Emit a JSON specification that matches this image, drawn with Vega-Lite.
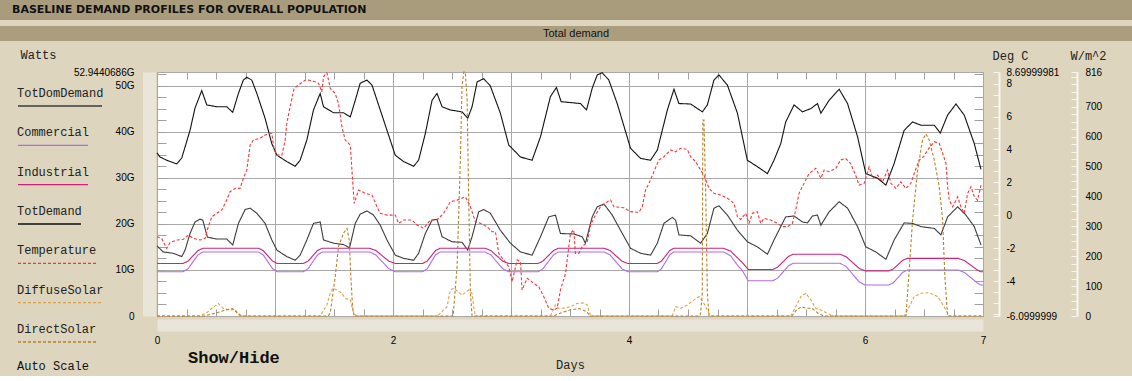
{
  "$schema": "https://vega.github.io/schema/vega-lite/v6.json",
  "background": "#ddd5bd",
  "padding": 0,
  "spacing": 6,
  "config": {
    "view": {"stroke": null},
    "axis": {"labelFont": "Liberation Sans", "labelFontSize": 10, "labelColor": "#000000", "titleFont": "Liberation Mono", "titleFontSize": 12, "titleFontWeight": "normal", "titleColor": "#222222", "labelOverlap": false, "labelBound": false, "labelFlush": false}
  },
  "datasets": {
    "profiles": [
      {"series":"TotDemand","day":0,"value":35.4},{"series":"TotDemand","day":0.025,"value":34.5},{"series":"TotDemand","day":0.082,"value":33.8},{"series":"TotDemand","day":0.167,"value":33.0},{"series":"TotDemand","day":0.21,"value":34.3},{"series":"TotDemand","day":0.28,"value":40.3},{"series":"TotDemand","day":0.322,"value":45.1},{"series":"TotDemand","day":0.379,"value":48.9},{"series":"TotDemand","day":0.422,"value":45.8},{"series":"TotDemand","day":0.507,"value":45.4},{"series":"TotDemand","day":0.591,"value":45.4},{"series":"TotDemand","day":0.642,"value":44.2},{"series":"TotDemand","day":0.69,"value":48.3},{"series":"TotDemand","day":0.732,"value":51.2},{"series":"TotDemand","day":0.761,"value":51.8},{"series":"TotDemand","day":0.803,"value":51.2},{"series":"TotDemand","day":0.846,"value":48.3},{"series":"TotDemand","day":0.916,"value":42.9},{"series":"TotDemand","day":0.973,"value":37.4},{"series":"TotDemand","day":1.016,"value":34.9},{"series":"TotDemand","day":1.1,"value":33.5},{"series":"TotDemand","day":1.171,"value":32.5},{"series":"TotDemand","day":1.213,"value":33.8},{"series":"TotDemand","day":1.27,"value":38.2},{"series":"TotDemand","day":1.326,"value":44.7},{"series":"TotDemand","day":1.383,"value":48.3},{"series":"TotDemand","day":1.411,"value":45.4},{"series":"TotDemand","day":1.496,"value":44.1},{"series":"TotDemand","day":1.581,"value":44.1},{"series":"TotDemand","day":1.638,"value":43.2},{"series":"TotDemand","day":1.68,"value":46.8},{"series":"TotDemand","day":1.722,"value":50.5},{"series":"TotDemand","day":1.779,"value":51.2},{"series":"TotDemand","day":1.822,"value":50.1},{"series":"TotDemand","day":1.892,"value":44.7},{"series":"TotDemand","day":1.949,"value":40.3},{"series":"TotDemand","day":2.019,"value":34.9},{"series":"TotDemand","day":2.09,"value":33.5},{"series":"TotDemand","day":2.175,"value":32.5},{"series":"TotDemand","day":2.217,"value":33.8},{"series":"TotDemand","day":2.274,"value":39.6},{"series":"TotDemand","day":2.331,"value":46.8},{"series":"TotDemand","day":2.373,"value":48.3},{"series":"TotDemand","day":2.416,"value":45.4},{"series":"TotDemand","day":2.486,"value":44.7},{"series":"TotDemand","day":2.585,"value":44.3},{"series":"TotDemand","day":2.633,"value":42.9},{"series":"TotDemand","day":2.67,"value":45.4},{"series":"TotDemand","day":2.713,"value":50.8},{"series":"TotDemand","day":2.769,"value":51.5},{"series":"TotDemand","day":2.825,"value":49.9},{"series":"TotDemand","day":2.91,"value":44.0},{"series":"TotDemand","day":2.981,"value":37.1},{"series":"TotDemand","day":3.08,"value":34.5},{"series":"TotDemand","day":3.179,"value":33.8},{"series":"TotDemand","day":3.25,"value":38.9},{"series":"TotDemand","day":3.334,"value":47.6},{"series":"TotDemand","day":3.385,"value":49.6},{"series":"TotDemand","day":3.425,"value":46.5},{"series":"TotDemand","day":3.589,"value":46.1},{"series":"TotDemand","day":3.64,"value":44.7},{"series":"TotDemand","day":3.688,"value":49.4},{"series":"TotDemand","day":3.731,"value":52.3},{"series":"TotDemand","day":3.773,"value":52.8},{"series":"TotDemand","day":3.829,"value":51.2},{"series":"TotDemand","day":3.9,"value":46.1},{"series":"TotDemand","day":4.013,"value":36.4},{"series":"TotDemand","day":4.098,"value":34.2},{"series":"TotDemand","day":4.183,"value":33.8},{"series":"TotDemand","day":4.24,"value":36.0},{"series":"TotDemand","day":4.325,"value":44.7},{"series":"TotDemand","day":4.381,"value":49.2},{"series":"TotDemand","day":4.423,"value":46.1},{"series":"TotDemand","day":4.522,"value":46.0},{"series":"TotDemand","day":4.622,"value":44.3},{"series":"TotDemand","day":4.664,"value":45.8},{"series":"TotDemand","day":4.72,"value":51.2},{"series":"TotDemand","day":4.762,"value":52.3},{"series":"TotDemand","day":4.834,"value":50.1},{"series":"TotDemand","day":4.919,"value":44.0},{"series":"TotDemand","day":5.003,"value":33.8},{"series":"TotDemand","day":5.088,"value":32.4},{"series":"TotDemand","day":5.173,"value":30.9},{"series":"TotDemand","day":5.229,"value":33.8},{"series":"TotDemand","day":5.286,"value":37.4},{"series":"TotDemand","day":5.328,"value":42.1},{"series":"TotDemand","day":5.399,"value":45.8},{"series":"TotDemand","day":5.47,"value":44.3},{"series":"TotDemand","day":5.541,"value":45.0},{"series":"TotDemand","day":5.597,"value":46.1},{"series":"TotDemand","day":5.626,"value":44.0},{"series":"TotDemand","day":5.696,"value":46.8},{"series":"TotDemand","day":5.781,"value":49.2},{"series":"TotDemand","day":5.852,"value":46.1},{"series":"TotDemand","day":5.937,"value":38.9},{"series":"TotDemand","day":6.007,"value":30.9},{"series":"TotDemand","day":6.106,"value":29.9},{"series":"TotDemand","day":6.177,"value":28.4},{"series":"TotDemand","day":6.247,"value":33.1},{"series":"TotDemand","day":6.332,"value":40.3},{"series":"TotDemand","day":6.403,"value":42.1},{"series":"TotDemand","day":6.474,"value":41.4},{"series":"TotDemand","day":6.587,"value":41.4},{"series":"TotDemand","day":6.638,"value":39.7},{"series":"TotDemand","day":6.7,"value":43.6},{"series":"TotDemand","day":6.771,"value":46.0},{"series":"TotDemand","day":6.841,"value":43.6},{"series":"TotDemand","day":6.926,"value":37.4},{"series":"TotDemand","day":6.983,"value":31.8},

      {"series":"TotDomDemand","day":0,"value":15.2},{"series":"TotDomDemand","day":0.053,"value":13.9},{"series":"TotDomDemand","day":0.138,"value":13.6},{"series":"TotDomDemand","day":0.21,"value":12.9},{"series":"TotDomDemand","day":0.238,"value":14.3},{"series":"TotDomDemand","day":0.28,"value":17.9},{"series":"TotDomDemand","day":0.322,"value":20.4},{"series":"TotDomDemand","day":0.365,"value":21.0},{"series":"TotDomDemand","day":0.388,"value":20.8},{"series":"TotDomDemand","day":0.427,"value":17.1},{"series":"TotDomDemand","day":0.507,"value":16.7},{"series":"TotDomDemand","day":0.591,"value":16.7},{"series":"TotDomDemand","day":0.642,"value":15.4},{"series":"TotDomDemand","day":0.69,"value":20.1},{"series":"TotDomDemand","day":0.747,"value":23.1},{"series":"TotDomDemand","day":0.789,"value":23.4},{"series":"TotDomDemand","day":0.846,"value":22.3},{"series":"TotDomDemand","day":0.916,"value":20.1},{"series":"TotDomDemand","day":0.973,"value":16.5},{"series":"TotDomDemand","day":1.016,"value":14.3},{"series":"TotDomDemand","day":1.1,"value":12.9},{"series":"TotDomDemand","day":1.171,"value":12.1},{"series":"TotDomDemand","day":1.213,"value":13.2},{"series":"TotDomDemand","day":1.27,"value":16.5},{"series":"TotDomDemand","day":1.326,"value":20.1},{"series":"TotDomDemand","day":1.383,"value":20.4},{"series":"TotDomDemand","day":1.411,"value":16.5},{"series":"TotDomDemand","day":1.496,"value":15.8},{"series":"TotDomDemand","day":1.581,"value":15.5},{"series":"TotDomDemand","day":1.632,"value":14.8},{"series":"TotDomDemand","day":1.68,"value":20.1},{"series":"TotDomDemand","day":1.722,"value":22.1},{"series":"TotDomDemand","day":1.779,"value":22.8},{"series":"TotDomDemand","day":1.835,"value":21.9},{"series":"TotDomDemand","day":1.892,"value":19.7},{"series":"TotDomDemand","day":1.949,"value":16.5},{"series":"TotDomDemand","day":2.019,"value":13.2},{"series":"TotDomDemand","day":2.09,"value":12.5},{"series":"TotDomDemand","day":2.175,"value":12.1},{"series":"TotDomDemand","day":2.217,"value":13.6},{"series":"TotDomDemand","day":2.274,"value":17.9},{"series":"TotDomDemand","day":2.331,"value":20.8},{"series":"TotDomDemand","day":2.373,"value":21.0},{"series":"TotDomDemand","day":2.416,"value":17.2},{"series":"TotDomDemand","day":2.5,"value":16.1},{"series":"TotDomDemand","day":2.585,"value":16.0},{"series":"TotDomDemand","day":2.633,"value":14.3},{"series":"TotDomDemand","day":2.67,"value":17.2},{"series":"TotDomDemand","day":2.726,"value":22.6},{"series":"TotDomDemand","day":2.769,"value":23.1},{"series":"TotDomDemand","day":2.825,"value":22.3},{"series":"TotDomDemand","day":2.91,"value":18.6},{"series":"TotDomDemand","day":2.995,"value":15.8},{"series":"TotDomDemand","day":3.08,"value":13.9},{"series":"TotDomDemand","day":3.179,"value":13.2},{"series":"TotDomDemand","day":3.25,"value":17.2},{"series":"TotDomDemand","day":3.32,"value":21.5},{"series":"TotDomDemand","day":3.377,"value":21.9},{"series":"TotDomDemand","day":3.419,"value":17.9},{"series":"TotDomDemand","day":3.532,"value":17.8},{"series":"TotDomDemand","day":3.603,"value":17.2},{"series":"TotDomDemand","day":3.631,"value":15.8},{"series":"TotDomDemand","day":3.688,"value":21.5},{"series":"TotDomDemand","day":3.731,"value":23.7},{"series":"TotDomDemand","day":3.787,"value":24.3},{"series":"TotDomDemand","day":3.858,"value":21.9},{"series":"TotDomDemand","day":3.928,"value":18.6},{"series":"TotDomDemand","day":4.013,"value":14.7},{"series":"TotDomDemand","day":4.098,"value":13.6},{"series":"TotDomDemand","day":4.183,"value":13.2},{"series":"TotDomDemand","day":4.24,"value":15.8},{"series":"TotDomDemand","day":4.296,"value":20.1},{"series":"TotDomDemand","day":4.367,"value":21.4},{"series":"TotDomDemand","day":4.395,"value":20.8},{"series":"TotDomDemand","day":4.423,"value":17.6},{"series":"TotDomDemand","day":4.522,"value":17.4},{"series":"TotDomDemand","day":4.607,"value":15.8},{"series":"TotDomDemand","day":4.664,"value":17.9},{"series":"TotDomDemand","day":4.72,"value":23.4},{"series":"TotDomDemand","day":4.762,"value":23.9},{"series":"TotDomDemand","day":4.834,"value":21.9},{"series":"TotDomDemand","day":4.919,"value":18.6},{"series":"TotDomDemand","day":5.003,"value":16.1},{"series":"TotDomDemand","day":5.088,"value":15.0},{"series":"TotDomDemand","day":5.173,"value":13.4},{"series":"TotDomDemand","day":5.229,"value":16.5},{"series":"TotDomDemand","day":5.286,"value":19.4},{"series":"TotDomDemand","day":5.328,"value":21.5},{"series":"TotDomDemand","day":5.399,"value":21.7},{"series":"TotDomDemand","day":5.47,"value":20.4},{"series":"TotDomDemand","day":5.512,"value":20.2},{"series":"TotDomDemand","day":5.555,"value":21.7},{"series":"TotDomDemand","day":5.597,"value":21.9},{"series":"TotDomDemand","day":5.626,"value":19.7},{"series":"TotDomDemand","day":5.696,"value":22.6},{"series":"TotDomDemand","day":5.781,"value":24.8},{"series":"TotDomDemand","day":5.852,"value":23.4},{"series":"TotDomDemand","day":5.937,"value":19.4},{"series":"TotDomDemand","day":6.007,"value":15.0},{"series":"TotDomDemand","day":6.092,"value":13.9},{"series":"TotDomDemand","day":6.177,"value":12.3},{"series":"TotDomDemand","day":6.247,"value":16.5},{"series":"TotDomDemand","day":6.332,"value":20.2},{"series":"TotDomDemand","day":6.403,"value":20.1},{"series":"TotDomDemand","day":6.474,"value":19.4},{"series":"TotDomDemand","day":6.587,"value":19.0},{"series":"TotDomDemand","day":6.643,"value":17.6},{"series":"TotDomDemand","day":6.7,"value":21.5},{"series":"TotDomDemand","day":6.785,"value":23.7},{"series":"TotDomDemand","day":6.855,"value":21.9},{"series":"TotDomDemand","day":6.926,"value":19.4},{"series":"TotDomDemand","day":6.983,"value":15.4},

      {"series":"Industrial","day":0,"value":11.4},{"series":"Industrial","day":0.22,"value":11.4},{"series":"Industrial","day":0.2625,"value":11.9},{"series":"Industrial","day":0.305,"value":13.05},{"series":"Industrial","day":0.3475,"value":14.2},{"series":"Industrial","day":0.39,"value":14.7},{"series":"Industrial","day":0.86,"value":14.7},{"series":"Industrial","day":0.9,"value":14.2},{"series":"Industrial","day":0.94,"value":13.05},{"series":"Industrial","day":0.98,"value":11.9},{"series":"Industrial","day":1.02,"value":11.4},{"series":"Industrial","day":1.24,"value":11.4},{"series":"Industrial","day":1.28,"value":11.9},{"series":"Industrial","day":1.32,"value":13.05},{"series":"Industrial","day":1.36,"value":14.2},{"series":"Industrial","day":1.4,"value":14.7},{"series":"Industrial","day":1.8,"value":14.7},{"series":"Industrial","day":1.855,"value":14.2},{"series":"Industrial","day":1.91,"value":13.05},{"series":"Industrial","day":1.965,"value":11.9},{"series":"Industrial","day":2.02,"value":11.4},{"series":"Industrial","day":2.25,"value":11.4},{"series":"Industrial","day":2.29,"value":11.9},{"series":"Industrial","day":2.325,"value":13.05},{"series":"Industrial","day":2.36,"value":14.2},{"series":"Industrial","day":2.4,"value":14.7},{"series":"Industrial","day":2.78,"value":14.7},{"series":"Industrial","day":2.83,"value":14.2},{"series":"Industrial","day":2.88,"value":13.05},{"series":"Industrial","day":2.93,"value":11.9},{"series":"Industrial","day":2.98,"value":11.4},{"series":"Industrial","day":3.23,"value":11.4},{"series":"Industrial","day":3.27,"value":11.9},{"series":"Industrial","day":3.315,"value":13.05},{"series":"Industrial","day":3.36,"value":14.2},{"series":"Industrial","day":3.4,"value":14.7},{"series":"Industrial","day":3.79,"value":14.7},{"series":"Industrial","day":3.84,"value":14.2},{"series":"Industrial","day":3.89,"value":13.05},{"series":"Industrial","day":3.94,"value":11.9},{"series":"Industrial","day":3.99,"value":11.4},{"series":"Industrial","day":4.24,"value":11.4},{"series":"Industrial","day":4.275,"value":11.9},{"series":"Industrial","day":4.31,"value":13.05},{"series":"Industrial","day":4.345,"value":14.2},{"series":"Industrial","day":4.38,"value":14.7},{"series":"Industrial","day":4.8,"value":14.7},{"series":"Industrial","day":4.86,"value":14.1},{"series":"Industrial","day":4.92,"value":12.6},{"series":"Industrial","day":4.96,"value":11.6},{"series":"Industrial","day":5.01,"value":10.1},{"series":"Industrial","day":5.22,"value":10.1},{"series":"Industrial","day":5.26,"value":10.6},{"series":"Industrial","day":5.305,"value":11.75},{"series":"Industrial","day":5.35,"value":12.9},{"series":"Industrial","day":5.39,"value":13.4},{"series":"Industrial","day":5.79,"value":13.4},{"series":"Industrial","day":5.84,"value":12.86},{"series":"Industrial","day":5.895,"value":11.6},{"series":"Industrial","day":5.95,"value":10.34},{"series":"Industrial","day":6.0,"value":9.8},{"series":"Industrial","day":6.2,"value":9.8},{"series":"Industrial","day":6.24,"value":10.2},{"series":"Industrial","day":6.28,"value":11.15},{"series":"Industrial","day":6.32,"value":12.1},{"series":"Industrial","day":6.36,"value":12.5},{"series":"Industrial","day":6.79,"value":12.5},{"series":"Industrial","day":6.84,"value":12.06},{"series":"Industrial","day":6.895,"value":11.05},{"series":"Industrial","day":6.95,"value":10.03},{"series":"Industrial","day":6.98,"value":9.6},{"series":"Industrial","day":7,"value":9.6},

      {"series":"Commercial","day":0,"value":9.6},{"series":"Commercial","day":0.22,"value":9.6},{"series":"Commercial","day":0.2625,"value":10.25},{"series":"Commercial","day":0.305,"value":11.75},{"series":"Commercial","day":0.3475,"value":13.25},{"series":"Commercial","day":0.39,"value":13.9},{"series":"Commercial","day":0.86,"value":13.9},{"series":"Commercial","day":0.9,"value":13.25},{"series":"Commercial","day":0.94,"value":11.75},{"series":"Commercial","day":0.98,"value":10.25},{"series":"Commercial","day":1.02,"value":9.6},{"series":"Commercial","day":1.24,"value":9.6},{"series":"Commercial","day":1.28,"value":10.25},{"series":"Commercial","day":1.32,"value":11.75},{"series":"Commercial","day":1.36,"value":13.25},{"series":"Commercial","day":1.4,"value":13.9},{"series":"Commercial","day":1.8,"value":13.9},{"series":"Commercial","day":1.855,"value":13.25},{"series":"Commercial","day":1.91,"value":11.75},{"series":"Commercial","day":1.965,"value":10.25},{"series":"Commercial","day":2.02,"value":9.6},{"series":"Commercial","day":2.25,"value":9.6},{"series":"Commercial","day":2.29,"value":10.25},{"series":"Commercial","day":2.325,"value":11.75},{"series":"Commercial","day":2.36,"value":13.25},{"series":"Commercial","day":2.4,"value":13.9},{"series":"Commercial","day":2.78,"value":13.9},{"series":"Commercial","day":2.83,"value":13.25},{"series":"Commercial","day":2.88,"value":11.75},{"series":"Commercial","day":2.93,"value":10.25},{"series":"Commercial","day":2.98,"value":9.6},{"series":"Commercial","day":3.23,"value":9.6},{"series":"Commercial","day":3.27,"value":10.25},{"series":"Commercial","day":3.315,"value":11.75},{"series":"Commercial","day":3.36,"value":13.25},{"series":"Commercial","day":3.4,"value":13.9},{"series":"Commercial","day":3.79,"value":13.9},{"series":"Commercial","day":3.84,"value":13.25},{"series":"Commercial","day":3.89,"value":11.75},{"series":"Commercial","day":3.94,"value":10.25},{"series":"Commercial","day":3.99,"value":9.6},{"series":"Commercial","day":4.24,"value":9.6},{"series":"Commercial","day":4.275,"value":10.25},{"series":"Commercial","day":4.31,"value":11.75},{"series":"Commercial","day":4.345,"value":13.25},{"series":"Commercial","day":4.38,"value":13.9},{"series":"Commercial","day":4.8,"value":13.9},{"series":"Commercial","day":4.86,"value":13.1},{"series":"Commercial","day":4.92,"value":11.0},{"series":"Commercial","day":4.96,"value":9.9},{"series":"Commercial","day":5.01,"value":7.65},{"series":"Commercial","day":5.22,"value":7.65},{"series":"Commercial","day":5.26,"value":8.22},{"series":"Commercial","day":5.305,"value":9.54},{"series":"Commercial","day":5.35,"value":10.86},{"series":"Commercial","day":5.39,"value":11.43},{"series":"Commercial","day":5.79,"value":11.43},{"series":"Commercial","day":5.84,"value":10.72},{"series":"Commercial","day":5.895,"value":9.08},{"series":"Commercial","day":5.95,"value":7.43},{"series":"Commercial","day":6.0,"value":6.72},{"series":"Commercial","day":6.2,"value":6.72},{"series":"Commercial","day":6.24,"value":7.21},{"series":"Commercial","day":6.28,"value":8.35},{"series":"Commercial","day":6.32,"value":9.48},{"series":"Commercial","day":6.36,"value":9.97},{"series":"Commercial","day":6.79,"value":9.97},{"series":"Commercial","day":6.84,"value":9.48},{"series":"Commercial","day":6.895,"value":8.35},{"series":"Commercial","day":6.95,"value":7.21},{"series":"Commercial","day":6.98,"value":6.72},{"series":"Commercial","day":7,"value":6.72},

      {"series":"Temperature","day":0,"value":-1.29},{"series":"Temperature","day":0.04,"value":-1.4},{"series":"Temperature","day":0.082,"value":-2.0},{"series":"Temperature","day":0.11,"value":-1.65},{"series":"Temperature","day":0.167,"value":-1.49},{"series":"Temperature","day":0.223,"value":-1.45},{"series":"Temperature","day":0.266,"value":-1.19},{"series":"Temperature","day":0.308,"value":-1.39},{"series":"Temperature","day":0.365,"value":-1.49},{"series":"Temperature","day":0.407,"value":-1.39},{"series":"Temperature","day":0.435,"value":-0.68},{"series":"Temperature","day":0.464,"value":-0.08},{"series":"Temperature","day":0.507,"value":0.13},{"series":"Temperature","day":0.549,"value":0.33},{"series":"Temperature","day":0.591,"value":0.93},{"series":"Temperature","day":0.619,"value":1.44},{"series":"Temperature","day":0.662,"value":1.64},{"series":"Temperature","day":0.704,"value":1.64},{"series":"Temperature","day":0.732,"value":2.25},{"series":"Temperature","day":0.761,"value":2.75},{"series":"Temperature","day":0.789,"value":4.27},{"series":"Temperature","day":0.817,"value":4.57},{"series":"Temperature","day":0.874,"value":4.68},{"series":"Temperature","day":0.916,"value":4.88},{"series":"Temperature","day":0.973,"value":4.98},{"series":"Temperature","day":0.993,"value":3.97},{"series":"Temperature","day":1.016,"value":3.66},{"series":"Temperature","day":1.058,"value":3.66},{"series":"Temperature","day":1.086,"value":4.57},{"series":"Temperature","day":1.1,"value":5.59},{"series":"Temperature","day":1.128,"value":6.59},{"series":"Temperature","day":1.162,"value":7.71},{"series":"Temperature","day":1.199,"value":7.91},{"series":"Temperature","day":1.256,"value":8.21},{"series":"Temperature","day":1.284,"value":8.21},{"series":"Temperature","day":1.341,"value":8.11},{"series":"Temperature","day":1.369,"value":8.01},{"series":"Temperature","day":1.397,"value":7.5},{"series":"Temperature","day":1.411,"value":8.41},{"series":"Temperature","day":1.44,"value":8.65},{"series":"Temperature","day":1.468,"value":7.71},{"series":"Temperature","day":1.51,"value":7.4},{"series":"Temperature","day":1.538,"value":6.8},{"series":"Temperature","day":1.567,"value":5.38},{"series":"Temperature","day":1.595,"value":4.57},{"series":"Temperature","day":1.638,"value":4.27},{"series":"Temperature","day":1.652,"value":2.75},{"series":"Temperature","day":1.671,"value":0.73},{"series":"Temperature","day":1.708,"value":1.54},{"series":"Temperature","day":1.737,"value":1.44},{"series":"Temperature","day":1.765,"value":1.34},{"series":"Temperature","day":1.822,"value":1.24},{"series":"Temperature","day":1.864,"value":0.53},{"series":"Temperature","day":1.892,"value":0.13},{"series":"Temperature","day":1.949,"value":0.02},{"series":"Temperature","day":2.019,"value":0.02},{"series":"Temperature","day":2.047,"value":-0.48},{"series":"Temperature","day":2.09,"value":-0.28},{"series":"Temperature","day":2.161,"value":-0.28},{"series":"Temperature","day":2.203,"value":-0.58},{"series":"Temperature","day":2.26,"value":-0.78},{"series":"Temperature","day":2.316,"value":-0.28},{"series":"Temperature","day":2.373,"value":-0.28},{"series":"Temperature","day":2.429,"value":0.13},{"series":"Temperature","day":2.486,"value":0.83},{"series":"Temperature","day":2.543,"value":0.93},{"series":"Temperature","day":2.613,"value":1.13},{"series":"Temperature","day":2.656,"value":0.53},{"series":"Temperature","day":2.698,"value":-0.38},{"series":"Temperature","day":2.741,"value":-0.48},{"series":"Temperature","day":2.797,"value":-0.68},{"series":"Temperature","day":2.84,"value":-0.99},{"series":"Temperature","day":2.868,"value":-0.99},{"series":"Temperature","day":2.896,"value":-2.3},{"series":"Temperature","day":2.938,"value":-2.7},{"series":"Temperature","day":2.981,"value":-3.11},{"series":"Temperature","day":3.01,"value":-4.02},{"series":"Temperature","day":3.052,"value":-2.7},{"series":"Temperature","day":3.08,"value":-2.81},{"series":"Temperature","day":3.094,"value":-4.52},{"series":"Temperature","day":3.137,"value":-3.81},{"series":"Temperature","day":3.193,"value":-4.12},{"series":"Temperature","day":3.235,"value":-4.32},{"series":"Temperature","day":3.278,"value":-4.93},{"series":"Temperature","day":3.32,"value":-5.63},{"series":"Temperature","day":3.362,"value":-5.74},{"series":"Temperature","day":3.391,"value":-5.63},{"series":"Temperature","day":3.419,"value":-4.52},{"series":"Temperature","day":3.462,"value":-3.51},{"series":"Temperature","day":3.49,"value":-1.9},{"series":"Temperature","day":3.504,"value":-1.08},{"series":"Temperature","day":3.532,"value":-0.88},{"series":"Temperature","day":3.546,"value":-2.3},{"series":"Temperature","day":3.575,"value":-2.3},{"series":"Temperature","day":3.603,"value":-1.9},{"series":"Temperature","day":3.646,"value":-1.6},{"series":"Temperature","day":3.674,"value":-0.58},{"series":"Temperature","day":3.716,"value":0.02},{"series":"Temperature","day":3.759,"value":0.53},{"series":"Temperature","day":3.816,"value":0.83},{"series":"Temperature","day":3.844,"value":0.93},{"series":"Temperature","day":3.872,"value":0.53},{"series":"Temperature","day":3.956,"value":0.47},{"series":"Temperature","day":4.013,"value":0.23},{"series":"Temperature","day":4.084,"value":0.19},{"series":"Temperature","day":4.112,"value":0.53},{"series":"Temperature","day":4.14,"value":1.54},{"series":"Temperature","day":4.169,"value":1.95},{"series":"Temperature","day":4.211,"value":2.65},{"series":"Temperature","day":4.253,"value":3.36},{"series":"Temperature","day":4.296,"value":3.56},{"series":"Temperature","day":4.353,"value":3.97},{"series":"Temperature","day":4.395,"value":3.86},{"series":"Temperature","day":4.437,"value":4.07},{"series":"Temperature","day":4.494,"value":4.01},{"series":"Temperature","day":4.522,"value":3.56},{"series":"Temperature","day":4.565,"value":3.26},{"series":"Temperature","day":4.607,"value":2.75},{"series":"Temperature","day":4.635,"value":2.45},{"series":"Temperature","day":4.678,"value":1.64},{"series":"Temperature","day":4.72,"value":1.34},{"series":"Temperature","day":4.777,"value":1.24},{"series":"Temperature","day":4.834,"value":1.04},{"series":"Temperature","day":4.89,"value":0.73},{"series":"Temperature","day":4.919,"value":-0.08},{"series":"Temperature","day":4.947,"value":-0.24},{"series":"Temperature","day":4.989,"value":0.13},{"series":"Temperature","day":5.017,"value":-0.48},{"series":"Temperature","day":5.046,"value":0.13},{"series":"Temperature","day":5.088,"value":0.23},{"series":"Temperature","day":5.116,"value":-0.48},{"series":"Temperature","day":5.144,"value":-0.18},{"series":"Temperature","day":5.201,"value":-0.28},{"series":"Temperature","day":5.258,"value":-0.48},{"series":"Temperature","day":5.3,"value":-0.68},{"series":"Temperature","day":5.343,"value":-0.68},{"series":"Temperature","day":5.385,"value":-0.48},{"series":"Temperature","day":5.413,"value":0.33},{"series":"Temperature","day":5.441,"value":1.34},{"series":"Temperature","day":5.484,"value":1.95},{"series":"Temperature","day":5.526,"value":2.55},{"series":"Temperature","day":5.583,"value":2.86},{"series":"Temperature","day":5.626,"value":2.25},{"series":"Temperature","day":5.653,"value":2.75},{"series":"Temperature","day":5.696,"value":2.65},{"series":"Temperature","day":5.753,"value":2.86},{"series":"Temperature","day":5.792,"value":3.36},{"series":"Temperature","day":5.835,"value":3.46},{"series":"Temperature","day":5.877,"value":3.16},{"series":"Temperature","day":5.92,"value":2.45},{"series":"Temperature","day":5.95,"value":1.84},{"series":"Temperature","day":5.993,"value":1.95},{"series":"Temperature","day":6.035,"value":2.95},{"series":"Temperature","day":6.064,"value":2.25},{"series":"Temperature","day":6.106,"value":2.45},{"series":"Temperature","day":6.149,"value":2.04},{"series":"Temperature","day":6.191,"value":2.75},{"series":"Temperature","day":6.219,"value":1.95},{"series":"Temperature","day":6.262,"value":1.64},{"series":"Temperature","day":6.304,"value":2.04},{"series":"Temperature","day":6.346,"value":1.64},{"series":"Temperature","day":6.389,"value":1.95},{"series":"Temperature","day":6.417,"value":2.55},{"series":"Temperature","day":6.459,"value":3.36},{"series":"Temperature","day":6.497,"value":3.56},{"series":"Temperature","day":6.531,"value":3.97},{"series":"Temperature","day":6.587,"value":4.47},{"series":"Temperature","day":6.629,"value":4.37},{"series":"Temperature","day":6.658,"value":3.77},{"series":"Temperature","day":6.686,"value":3.16},{"series":"Temperature","day":6.7,"value":1.74},{"series":"Temperature","day":6.714,"value":0.93},{"series":"Temperature","day":6.743,"value":0.53},{"series":"Temperature","day":6.785,"value":1.13},{"series":"Temperature","day":6.813,"value":0.53},{"series":"Temperature","day":6.841,"value":0.13},{"series":"Temperature","day":6.87,"value":1.34},{"series":"Temperature","day":6.898,"value":1.74},{"series":"Temperature","day":6.926,"value":1.13},{"series":"Temperature","day":6.954,"value":0.93},{"series":"Temperature","day":6.983,"value":1.84},

      {"series":"DiffuseSolar","day":0,"value":0},{"series":"DiffuseSolar","day":0.36,"value":0},{"series":"DiffuseSolar","day":0.42,"value":10},{"series":"DiffuseSolar","day":0.464,"value":26},{"series":"DiffuseSolar","day":0.52,"value":42},{"series":"DiffuseSolar","day":0.56,"value":26},{"series":"DiffuseSolar","day":0.619,"value":20},{"series":"DiffuseSolar","day":0.662,"value":22},{"series":"DiffuseSolar","day":0.704,"value":0},{"series":"DiffuseSolar","day":1.383,"value":0},{"series":"DiffuseSolar","day":1.44,"value":37},{"series":"DiffuseSolar","day":1.468,"value":76},{"series":"DiffuseSolar","day":1.491,"value":93},{"series":"DiffuseSolar","day":1.525,"value":87},{"series":"DiffuseSolar","day":1.567,"value":76},{"series":"DiffuseSolar","day":1.595,"value":59},{"series":"DiffuseSolar","day":1.638,"value":54},{"series":"DiffuseSolar","day":1.666,"value":9},{"series":"DiffuseSolar","day":1.694,"value":0},{"series":"DiffuseSolar","day":2.376,"value":0},{"series":"DiffuseSolar","day":2.4,"value":9},{"series":"DiffuseSolar","day":2.458,"value":31},{"series":"DiffuseSolar","day":2.486,"value":87},{"series":"DiffuseSolar","day":2.514,"value":93},{"series":"DiffuseSolar","day":2.585,"value":70},{"series":"DiffuseSolar","day":2.641,"value":87},{"series":"DiffuseSolar","day":2.67,"value":76},{"series":"DiffuseSolar","day":2.684,"value":31},{"series":"DiffuseSolar","day":2.698,"value":0},{"series":"DiffuseSolar","day":3.334,"value":0},{"series":"DiffuseSolar","day":3.377,"value":37},{"series":"DiffuseSolar","day":3.4,"value":26},{"series":"DiffuseSolar","day":3.44,"value":26},{"series":"DiffuseSolar","day":3.504,"value":31},{"series":"DiffuseSolar","day":3.56,"value":42},{"series":"DiffuseSolar","day":3.617,"value":44},{"series":"DiffuseSolar","day":3.645,"value":37},{"series":"DiffuseSolar","day":3.674,"value":0},{"series":"DiffuseSolar","day":4.367,"value":0},{"series":"DiffuseSolar","day":4.395,"value":31},{"series":"DiffuseSolar","day":4.437,"value":26},{"series":"DiffuseSolar","day":4.494,"value":37},{"series":"DiffuseSolar","day":4.551,"value":54},{"series":"DiffuseSolar","day":4.594,"value":65},{"series":"DiffuseSolar","day":4.635,"value":42},{"series":"DiffuseSolar","day":4.678,"value":9},{"series":"DiffuseSolar","day":4.69,"value":0},{"series":"DiffuseSolar","day":5.371,"value":0},{"series":"DiffuseSolar","day":5.413,"value":31},{"series":"DiffuseSolar","day":5.456,"value":65},{"series":"DiffuseSolar","day":5.498,"value":76},{"series":"DiffuseSolar","day":5.541,"value":54},{"series":"DiffuseSolar","day":5.583,"value":26},{"series":"DiffuseSolar","day":5.626,"value":20},{"series":"DiffuseSolar","day":5.682,"value":9},{"series":"DiffuseSolar","day":5.725,"value":0},{"series":"DiffuseSolar","day":6.332,"value":0},{"series":"DiffuseSolar","day":6.375,"value":31},{"series":"DiffuseSolar","day":6.417,"value":65},{"series":"DiffuseSolar","day":6.474,"value":76},{"series":"DiffuseSolar","day":6.545,"value":78},{"series":"DiffuseSolar","day":6.615,"value":65},{"series":"DiffuseSolar","day":6.672,"value":31},{"series":"DiffuseSolar","day":6.714,"value":0},{"series":"DiffuseSolar","day":7,"value":0},

      {"series":"DirectSolar","day":0,"value":0},{"series":"DirectSolar","day":0.4,"value":0},{"series":"DirectSolar","day":0.5,"value":10},{"series":"DirectSolar","day":0.58,"value":20},{"series":"DirectSolar","day":0.64,"value":25},{"series":"DirectSolar","day":0.68,"value":10},{"series":"DirectSolar","day":0.72,"value":0},{"series":"DirectSolar","day":1.45,"value":0},{"series":"DirectSolar","day":1.468,"value":9},{"series":"DirectSolar","day":1.51,"value":131},{"series":"DirectSolar","day":1.538,"value":232},{"series":"DirectSolar","day":1.581,"value":277},{"series":"DirectSolar","day":1.61,"value":293},{"series":"DirectSolar","day":1.629,"value":254},{"series":"DirectSolar","day":1.643,"value":131},{"series":"DirectSolar","day":1.657,"value":31},{"series":"DirectSolar","day":1.671,"value":0},{"series":"DirectSolar","day":2.51,"value":0},{"series":"DirectSolar","day":2.543,"value":165},{"series":"DirectSolar","day":2.571,"value":522},{"series":"DirectSolar","day":2.585,"value":767},{"series":"DirectSolar","day":2.6,"value":816},{"series":"DirectSolar","day":2.613,"value":816},{"series":"DirectSolar","day":2.628,"value":722},{"series":"DirectSolar","day":2.641,"value":410},{"series":"DirectSolar","day":2.656,"value":76},{"series":"DirectSolar","day":2.67,"value":0},{"series":"DirectSolar","day":3.36,"value":0},{"series":"DirectSolar","day":3.42,"value":10},{"series":"DirectSolar","day":3.5,"value":20},{"series":"DirectSolar","day":3.58,"value":25},{"series":"DirectSolar","day":3.64,"value":15},{"series":"DirectSolar","day":3.67,"value":0},{"series":"DirectSolar","day":4.6,"value":0},{"series":"DirectSolar","day":4.607,"value":9},{"series":"DirectSolar","day":4.621,"value":76},{"series":"DirectSolar","day":4.626,"value":655},{"series":"DirectSolar","day":4.635,"value":655},{"series":"DirectSolar","day":4.65,"value":410},{"series":"DirectSolar","day":4.664,"value":76},{"series":"DirectSolar","day":4.678,"value":0},{"series":"DirectSolar","day":5.38,"value":0},{"series":"DirectSolar","day":5.42,"value":20},{"series":"DirectSolar","day":5.46,"value":31},{"series":"DirectSolar","day":5.5,"value":26},{"series":"DirectSolar","day":5.55,"value":26},{"series":"DirectSolar","day":5.6,"value":10},{"series":"DirectSolar","day":5.65,"value":0},{"series":"DirectSolar","day":6.347,"value":0},{"series":"DirectSolar","day":6.375,"value":154},{"series":"DirectSolar","day":6.403,"value":321},{"series":"DirectSolar","day":6.446,"value":488},{"series":"DirectSolar","day":6.488,"value":589},{"series":"DirectSolar","day":6.516,"value":609},{"series":"DirectSolar","day":6.544,"value":589},{"series":"DirectSolar","day":6.587,"value":522},{"series":"DirectSolar","day":6.629,"value":432},{"series":"DirectSolar","day":6.658,"value":321},{"series":"DirectSolar","day":6.677,"value":131},{"series":"DirectSolar","day":6.7,"value":0},{"series":"DirectSolar","day":7,"value":0}
    ]
  },
  "vconcat": [
    {
      "width": 1132, "height": 20,
      "view": {"fill": "#a99c7c", "stroke": null},
      "data": {"values": [{"label": "BASELINE DEMAND PROFILES FOR OVERALL POPULATION"}]},
      "mark": {"type": "text", "align": "left", "baseline": "middle", "font": "DejaVu Sans", "fontSize": 11, "fontWeight": "bold", "color": "#111111"},
      "encoding": {"x": {"value": 12}, "text": {"field": "label"}}
    },
    {
      "width": 1132, "height": 15,
      "view": {"fill": "#ab9e7e", "stroke": null},
      "data": {"values": [{"label": "Total demand"}]},
      "mark": {"type": "text", "align": "center", "baseline": "middle", "font": "Liberation Sans", "fontSize": 11, "color": "#111111"},
      "encoding": {"x": {"value": 576}, "text": {"field": "label"}}
    },
    {
      "bounds": "flush",
      "spacing": 17,
      "hconcat": [
        {
          "width": 140, "height": 304,
          "view": {"stroke": null, "fill": null},
          "title": {"text": "Auto Scale", "orient": "bottom", "anchor": "start", "dx": 17, "offset": -15, "font": "Liberation Mono", "fontSize": 12, "fontWeight": "normal", "color": "#111111"},
          "data": {"values": [{"series": "TotDomDemand"}, {"series": "Commercial"}, {"series": "Industrial"}, {"series": "TotDemand"}, {"series": "Temperature"}, {"series": "DiffuseSolar"}, {"series": "DirectSolar"}]},
          "encoding": {
            "y": {"field": "series", "type": "nominal", "scale": {"type": "point", "domain": ["TotDomDemand", "Commercial", "Industrial", "TotDemand", "Temperature", "DiffuseSolar", "DirectSolar"], "padding": 0.864}, "axis": null},
            "color": {"field": "series", "type": "nominal", "scale": {"domain": ["TotDomDemand", "Commercial", "Industrial", "TotDemand", "Temperature", "DiffuseSolar", "DirectSolar"], "range": ["#3c3c3c", "#b06ce8", "#cc2277", "#111111", "#ff3333", "#d9a548", "#b8802a"]}, "legend": null},
            "strokeDash": {"field": "series", "type": "nominal", "scale": {"domain": ["TotDomDemand", "Commercial", "Industrial", "TotDemand", "Temperature", "DiffuseSolar", "DirectSolar"], "range": [[1, 0], [1, 0], [1, 0], [1, 0], [3, 2], [3, 2], [3, 2]]}, "legend": null}
          },
          "layer": [
            {
              "transform": [{"filter": {"field": "series", "oneOf": ["TotDomDemand", "DiffuseSolar"]}}],
              "mark": {"type": "rule", "strokeWidth": 1.3},
              "encoding": {"x": {"value": 18}, "x2": {"value": 102}}
            },
            {
              "transform": [{"filter": {"field": "series", "oneOf": ["Commercial", "Industrial"]}}],
              "mark": {"type": "rule", "strokeWidth": 1.3},
              "encoding": {"x": {"value": 18}, "x2": {"value": 88}}
            },
            {
              "transform": [{"filter": {"field": "series", "equal": "TotDemand"}}],
              "mark": {"type": "rule", "strokeWidth": 1.3},
              "encoding": {"x": {"value": 18}, "x2": {"value": 81}}
            },
            {
              "transform": [{"filter": {"field": "series", "oneOf": ["Temperature", "DirectSolar"]}}],
              "mark": {"type": "rule", "strokeWidth": 1.3},
              "encoding": {"x": {"value": 18}, "x2": {"value": 96}}
            },
            {
              "mark": {"type": "text", "align": "left", "baseline": "middle", "dy": -13, "font": "Liberation Mono", "fontSize": 12, "color": "#222222"},
              "encoding": {"x": {"value": 17}, "text": {"field": "series"}, "color": {"value": "#222222"}, "strokeDash": {"value": [1, 0]}}
            }
          ]
        },
        {
          "width": 826, "height": 244,
          "view": {"fill": "#ffffff", "stroke": "#9a9a9a"},
          "data": {"name": "profiles"},
          "title": {"text": "Show/Hide", "orient": "bottom", "anchor": "start", "frame": "group", "dx": 31, "offset": -20, "font": "Liberation Mono", "fontSize": 17, "fontWeight": "bold", "color": "#111111"},
          "layer": [
            {
              "transform": [{"filter": {"field": "series", "oneOf": ["TotDemand", "TotDomDemand", "Commercial", "Industrial"]}}],
              "mark": {"type": "line", "strokeWidth": 1.1},
              "encoding": {
                "x": {"field": "day", "type": "quantitative", "scale": {"domain": [0, 7], "nice": false, "zero": false},
                  "axis": {"orient": "bottom", "offset": 9, "values": [0, 1, 2, 3, 4, 5, 6, 7], "labelExpr": "datum.value % 2 == 0 || datum.value == 7 ? datum.label : ''", "ticks": false, "domainWidth": 12, "domainColor": "#e9e5d8", "labelPadding": 10, "grid": true, "gridColor": "#a9a9a9", "title": "Days", "titlePadding": 14}},
                "y": {"field": "value", "type": "quantitative", "scale": {"domain": [0, 52.9440686], "nice": false, "zero": false},
                  "axis": {"orient": "left", "offset": 8, "values": [0, 10, 20, 30, 40, 50, 52.9440686], "labelExpr": "datum.value == 0 ? '0' : datum.value > 51 ? '52.9440686G' : datum.value + 'G'", "ticks": false, "labelPadding": 15, "domainWidth": 13, "domainColor": "#e9e5d8", "grid": true, "gridColor": "#a9a9a9", "title": "Watts", "titleAngle": 0, "titleAlign": "left", "titleBaseline": "middle", "titleX": -129, "titleY": -18}},
                "color": {"field": "series", "type": "nominal", "scale": {"domain": ["TotDomDemand", "Commercial", "Industrial", "TotDemand", "Temperature", "DiffuseSolar", "DirectSolar"], "range": ["#3c3c3c", "#b06ce8", "#cc2277", "#111111", "#ff3333", "#d9a548", "#b8802a"]}, "legend": null},
                "strokeDash": {"field": "series", "type": "nominal", "scale": {"domain": ["TotDomDemand", "Commercial", "Industrial", "TotDemand", "Temperature", "DiffuseSolar", "DirectSolar"], "range": [[1, 0], [1, 0], [1, 0], [1, 0], [3, 2], [3, 2], [3, 2]]}, "legend": null}
              }
            },
            {
              "transform": [{"filter": {"field": "series", "equal": "Temperature"}}],
              "mark": {"type": "line", "strokeWidth": 1.1},
              "encoding": {
                "x": {"field": "day", "type": "quantitative", "scale": {"domain": [0, 7], "nice": false, "zero": false},
                  "axis": {"orient": "top", "values": [0.25, 0.5, 0.75, 1, 1.25, 1.5, 1.75, 2, 2.25, 2.5, 2.75, 3, 3.25, 3.5, 3.75, 4, 4.25, 4.5, 4.75, 5, 5.25, 5.5, 5.75, 6, 6.25, 6.5, 6.75], "ticks": true, "tickSize": -7, "tickColor": "#a0a0a0", "labels": false, "domain": false, "grid": false, "title": null}},
                "y": {"field": "value", "type": "quantitative", "scale": {"domain": [-6.0999999, 8.69999981], "nice": false, "zero": false},
                  "axis": {"orient": "right", "offset": 16, "values": [-6.0999999, -6, -5.3333, -4.6667, -4, -3.3333, -2.6667, -2, -1.3333, -0.6667, 0, 0.6667, 1.3333, 2, 2.6667, 3.3333, 4, 4.6667, 5.3333, 6, 6.6667, 7.3333, 8, 8.69999981], "labelExpr": "datum.value > 8.5 ? '8.69999981' : datum.value < -6.05 ? '-6.0999999' : (datum.value > -5 && abs(datum.value / 2 - round(datum.value / 2)) < 0.01 ? (datum.value < 0 ? '-' : '') + abs(round(datum.value)) : '')", "tickSize": -6, "tickColor": "#f7f5ee", "domainColor": "#f7f5ee", "domainWidth": 2, "labelPadding": 13, "grid": false, "title": "Deg C", "titleAngle": 0, "titleAlign": "left", "titleBaseline": "middle", "titleX": -7, "titleY": -17}},
                "color": {"field": "series", "type": "nominal", "scale": {"domain": ["TotDomDemand", "Commercial", "Industrial", "TotDemand", "Temperature", "DiffuseSolar", "DirectSolar"], "range": ["#3c3c3c", "#b06ce8", "#cc2277", "#111111", "#ff3333", "#d9a548", "#b8802a"]}, "legend": null},
                "strokeDash": {"field": "series", "type": "nominal", "scale": {"domain": ["TotDomDemand", "Commercial", "Industrial", "TotDemand", "Temperature", "DiffuseSolar", "DirectSolar"], "range": [[1, 0], [1, 0], [1, 0], [1, 0], [3, 2], [3, 2], [3, 2]]}, "legend": null}
              }
            },
            {
              "transform": [{"filter": {"field": "series", "oneOf": ["DiffuseSolar", "DirectSolar"]}}],
              "mark": {"type": "line", "strokeWidth": 1.1},
              "encoding": {
                "x": {"field": "day", "type": "quantitative", "scale": {"domain": [0, 7], "nice": false, "zero": false},
                  "axis": {"orient": "bottom", "offset": 0, "values": [0.25, 0.5, 0.75, 1, 1.25, 1.5, 1.75, 2, 2.25, 2.5, 2.75, 3, 3.25, 3.5, 3.75, 4, 4.25, 4.5, 4.75, 5, 5.25, 5.5, 5.75, 6, 6.25, 6.5, 6.75], "ticks": true, "tickSize": -7, "tickColor": "#a0a0a0", "labels": false, "domain": false, "grid": false, "title": null}},
                "y": {"field": "value", "type": "quantitative", "scale": {"domain": [0, 816], "nice": false, "zero": false},
                  "axis": {"orient": "right", "offset": 94, "values": [0, 25, 50, 75, 100, 125, 150, 175, 200, 225, 250, 275, 300, 325, 350, 375, 400, 425, 450, 475, 500, 525, 550, 575, 600, 625, 650, 675, 700, 725, 750, 775, 800, 816], "labelExpr": "datum.value == 816 ? '816' : (datum.value % 100 == 0 && datum.value < 800 ? datum.label : '')", "tickSize": -6, "tickColor": "#f7f5ee", "domainColor": "#f7f5ee", "domainWidth": 2, "labelPadding": 14, "grid": false, "title": "W/m^2", "titleAngle": 0, "titleAlign": "left", "titleBaseline": "middle", "titleX": -7, "titleY": -17}},
                "color": {"field": "series", "type": "nominal", "scale": {"domain": ["TotDomDemand", "Commercial", "Industrial", "TotDemand", "Temperature", "DiffuseSolar", "DirectSolar"], "range": ["#3c3c3c", "#b06ce8", "#cc2277", "#111111", "#ff3333", "#d9a548", "#b8802a"]}, "legend": null},
                "strokeDash": {"field": "series", "type": "nominal", "scale": {"domain": ["TotDomDemand", "Commercial", "Industrial", "TotDemand", "Temperature", "DiffuseSolar", "DirectSolar"], "range": [[1, 0], [1, 0], [1, 0], [1, 0], [3, 2], [3, 2], [3, 2]]}, "legend": null}
              }
            },
            {
              "transform": [{"filter": {"field": "series", "equal": "TotDemand"}}],
              "mark": {"type": "line", "opacity": 0},
              "encoding": {
                "x": {"field": "day", "type": "quantitative", "scale": {"domain": [0, 7], "nice": false, "zero": false}, "axis": null},
                "y": {"field": "value", "type": "quantitative", "scale": {"domain": [0, 52.9440686], "nice": false, "zero": false},
                  "axis": {"orient": "left", "offset": 0, "values": [2.5, 5, 7.5, 10, 12.5, 15, 17.5, 20, 22.5, 25, 27.5, 30, 32.5, 35, 37.5, 40, 42.5, 45, 47.5, 50, 52.5], "tickSize": -9, "tickColor": "#a0a0a0", "labels": false, "domain": false, "grid": false, "title": null}}
              }
            },
            {
              "transform": [{"filter": {"field": "series", "equal": "TotDemand"}}],
              "mark": {"type": "line", "opacity": 0},
              "encoding": {
                "x": {"field": "day", "type": "quantitative", "scale": {"domain": [0, 7], "nice": false, "zero": false}, "axis": null},
                "y": {"field": "value", "type": "quantitative", "scale": {"domain": [0, 52.9440686], "nice": false, "zero": false},
                  "axis": {"orient": "right", "offset": 0, "values": [2.5, 5, 7.5, 10, 12.5, 15, 17.5, 20, 22.5, 25, 27.5, 30, 32.5, 35, 37.5, 40, 42.5, 45, 47.5, 50, 52.5], "tickSize": -9, "tickColor": "#a0a0a0", "labels": false, "domain": false, "grid": false, "title": null}}
              }
            }
          ],
          "resolve": {"scale": {"y": "independent"}, "axis": {"x": "independent", "y": "independent"}}
        }
      ]
    }
  ]
}
